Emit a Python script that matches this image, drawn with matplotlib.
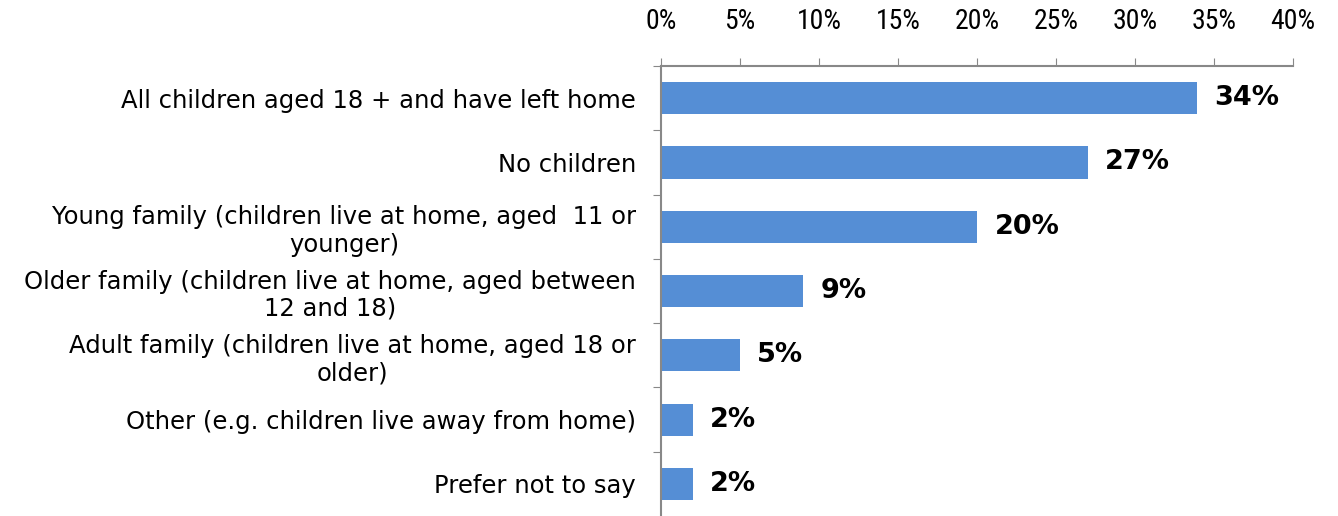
import matplotlib
matplotlib.use("Agg")
import matplotlib.pyplot as plt
from matplotlib import font_manager
from matplotlib.ticker import FuncFormatter

categories = [
    "All children aged 18 + and have left home",
    "No children",
    "Young family (children live at home, aged  11 or\nyounger)",
    "Older family (children live at home, aged between\n12 and 18)",
    "Adult family (children live at home, aged 18 or\nolder)",
    "Other (e.g. children live away from home)",
    "Prefer not to say",
]
values = [33.9, 27.0, 20.0, 9.0, 5.0, 2.0, 2.0]
value_labels = ["34%", "27%", "20%", "9%", "5%", "2%", "2%"]
xticks = [0, 5, 10, 15, 20, 25, 30, 35, 40]

installed = {f.name for f in font_manager.fontManager.ttflist}
narrow = "DejaVu Sans"
for name in ["Liberation Sans Narrow", "DejaVu Sans Condensed", "Roboto Condensed"]:
    if name in installed:
        narrow = name
        break

fig = plt.figure(figsize=(13.38, 5.16), dpi=100)
ax = fig.add_axes([661 / 1338, 0, (1293 - 661) / 1338, 1 - 66 / 516])

pos = list(range(len(categories)))
ax.barh(pos, values, height=0.5, color="#558ED5")
ax.set_ylim(len(categories) - 0.5, -0.5)
ax.set_xlim(0, 40)

for p, v, lab in zip(pos, values, value_labels):
    ax.text(v + 1.1, p, lab, va="center", ha="left", fontsize=19.5,
            fontweight="bold", family="DejaVu Sans")

ax.xaxis.tick_top()
ax.set_xticks(xticks)
ax.xaxis.set_major_formatter(FuncFormatter(lambda x, _: f"{x:.0f}%"))
for t in ax.get_xticklabels():
    t.set_family(narrow)
    t.set_fontsize(20 if narrow != "DejaVu Sans" else 15)
ax.tick_params(axis="x", direction="out", length=6, color="#888888",
               pad=16)

# category ticks sit between the bars
ax.set_yticks([p + 0.5 for p in pos[:-1]] + [-0.5], minor=False)
ax.set_yticklabels([])
ax.set_yticks(pos, minor=True)
ax.set_yticklabels(categories, minor=True, fontsize=17.5, ha="right",
                   family="DejaVu Sans", linespacing=1.18,
                   multialignment="center")
ax.tick_params(axis="y", which="major", direction="out", length=6,
               color="#888888")
ax.tick_params(axis="y", which="minor", length=0, pad=18)

for s in ["right", "bottom"]:
    ax.spines[s].set_visible(False)
for s in ["top", "left"]:
    ax.spines[s].set_color("#888888")
    ax.spines[s].set_linewidth(1.5)

fig.savefig("out.png", dpi=100)
